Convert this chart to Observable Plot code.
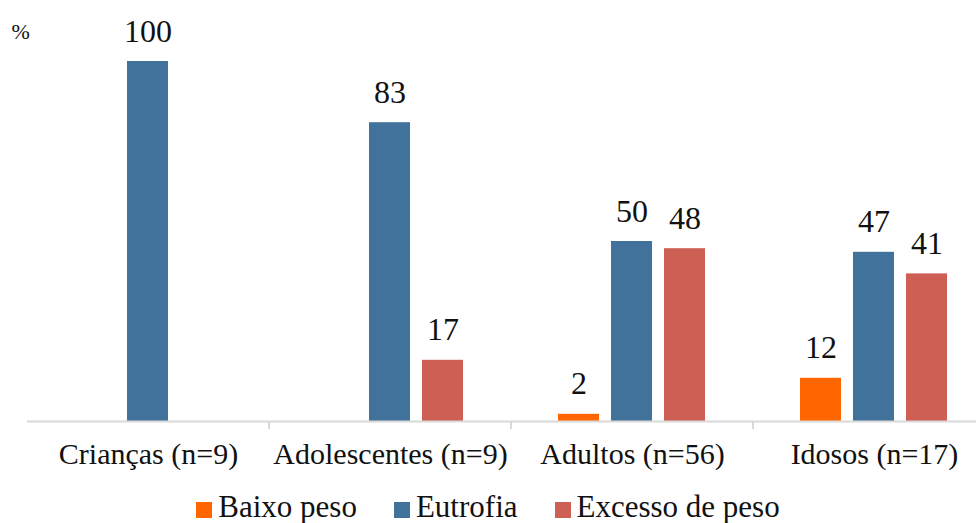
<!DOCTYPE html>
<html>
<head>
<meta charset="utf-8">
<script src="https://cdn.jsdelivr.net/npm/d3@7"></script>
<script src="https://cdn.jsdelivr.net/npm/@observablehq/plot@0.6"></script>
<style>
  html, body { margin: 0; padding: 0; background: #fff; overflow: hidden; }
  #chart > svg { display: block; }
  #chart, #chart * { font-family: 'Liberation Serif', 'Times New Roman', serif !important; }
  .lg-swatches { font-size: 31px !important;
        line-height: 36px !important; justify-content: center !important; margin: 0 !important;
        min-height: 0 !important; color: #111 !important; }
  .lg-swatch { margin-right: 37px !important; }
  .lg-swatch:last-child { margin-right: 0 !important; }
  .lg-swatch > svg { margin-right: 6px !important; position: relative; top: 3px; }
</style>
</head>
<body>
<div id="chart"></div>
<script>
const groups = ['Crianças (n=9)', 'Adolescentes (n=9)', 'Adultos (n=56)', 'Idosos (n=17)'];
const series = ['Baixo peso', 'Eutrofia', 'Excesso de peso'];
const baixoPeso = [0, 0, 2, 12];
const eutrofia = [100, 83, 50, 47];
const excessoPeso = [0, 17, 48, 41];
const colors = ['#FF6600', '#41729B', '#CD5F55'];
const yLabel = '%';

const FONT = "'Liberation Serif', 'Times New Roman', serif";

const seriesValues = [baixoPeso, eutrofia, excessoPeso];
const data = groups.flatMap((g, i) =>
  seriesValues.map((arr, j) => ({group: g, series: series[j], value: arr[i]}))
).filter(d => d.value > 0);

const plot = Plot.plot({
  width: 976,
  height: 489,
  marginTop: 61,
  marginBottom: 68,
  marginLeft: 26,
  marginRight: -19,
  style: {fontFamily: FONT, color: '#111', background: '#fff'},
  fx: {domain: groups, padding: 0, label: null},
  x: {domain: series, paddingInner: 0.222, paddingOuter: 0.855, axis: null},
  y: {domain: [0, 100], axis: null},
  color: {domain: series, range: colors},
  marks: [
    Plot.barY(data, {fx: 'group', x: 'series', y: 'value', fill: 'series'}),
    Plot.ruleY([0], {stroke: '#D9D9D9', strokeWidth: 2}),
    Plot.text(data, {fx: 'group', x: 'series', y: 'value', text: d => String(d.value),
      lineAnchor: 'bottom', dy: -20, fontSize: 32, fontFamily: FONT, fill: '#111'}),
    Plot.text([yLabel], {fx: () => groups[0], frameAnchor: 'top-left', text: d => d,
      textAnchor: 'start', lineAnchor: 'bottom', dx: -16, dy: -23, fontSize: 22, fontFamily: FONT, fill: '#111'}),
    Plot.axisFx({anchor: 'bottom', tickSize: 0, tickPadding: 21, fontSize: 30, fontFamily: FONT, label: null})
  ]
});

// separator tick marks between categories, positioned via the fx and y scales
const fxs = plot.scale('fx');
const ys = plot.scale('y');
const y0 = ys.apply(0);
d3.select(plot).append('g')
  .selectAll('line')
  .data(groups.slice(1))
  .join('line')
  .attr('x1', g => fxs.apply(g))
  .attr('x2', g => fxs.apply(g))
  .attr('y1', y0)
  .attr('y2', y0 + 8)
  .attr('stroke', '#D9D9D9')
  .attr('stroke-width', 2);

const legend = plot.legend('color', {className: 'lg', swatchSize: 16});
const host = document.getElementById('chart');
host.append(plot, legend);

// force the serif face on every text-bearing element
function forceFont() {
  host.querySelectorAll('*').forEach(el => {
    el.style.setProperty('font-family', FONT, 'important');
    if (el.tagName.toLowerCase() === 'text' || el.tagName.toLowerCase() === 'tspan' || el.tagName.toLowerCase() === 'g' || el.tagName.toLowerCase() === 'svg') {
      el.setAttribute('font-family', FONT);
    }
  });
}
forceFont();
requestAnimationFrame(forceFont);
</script>
</body>
</html>
